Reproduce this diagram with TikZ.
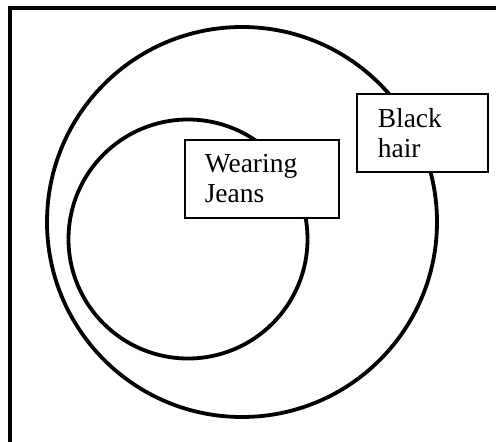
\documentclass[tikz,border=0pt]{standalone}
\usepackage{fontspec}
\setmainfont{Liberation Serif}
\usepackage{tikz}
\usetikzlibrary{positioning}
\tikzset{
  every picture/.style={font=\fontsize{27.5}{30}\selectfont},
  frame/.style={line width=4pt},
  ring/.style={line width=3.8pt},
  tag/.style={draw,fill=white,line width=1.6pt,anchor=north west,
    align=left,minimum height=78pt,inner ysep=0pt},
}

\begin{document}
\begin{tikzpicture}[x=1pt,y=-1pt]
  \useasboundingbox (0,0) rectangle (496,442);
  % frame, open at right and bottom
  \draw[frame] (10,442) -- (10,8) -- (496,8);
  % the two sets
  \coordinate (hair) at (242,222);
  \coordinate (jeans) at (188,239);
  \draw[ring] (hair) circle (195pt);
  \draw[ring] (jeans) circle (119.5pt);
  % labels
  \node[tag,text width=114pt,inner xsep=20pt] (jeanstag) at (184,139)
    {\raisebox{-7pt}{\parbox{114pt}{Wearing\\Jeans}}};
  \node[tag,text width=89pt,inner xsep=21pt] (hairtag) at (356,93)
    {\raisebox{-6pt}{\parbox{89pt}{Black\\hair}}};
\end{tikzpicture}
\end{document}
